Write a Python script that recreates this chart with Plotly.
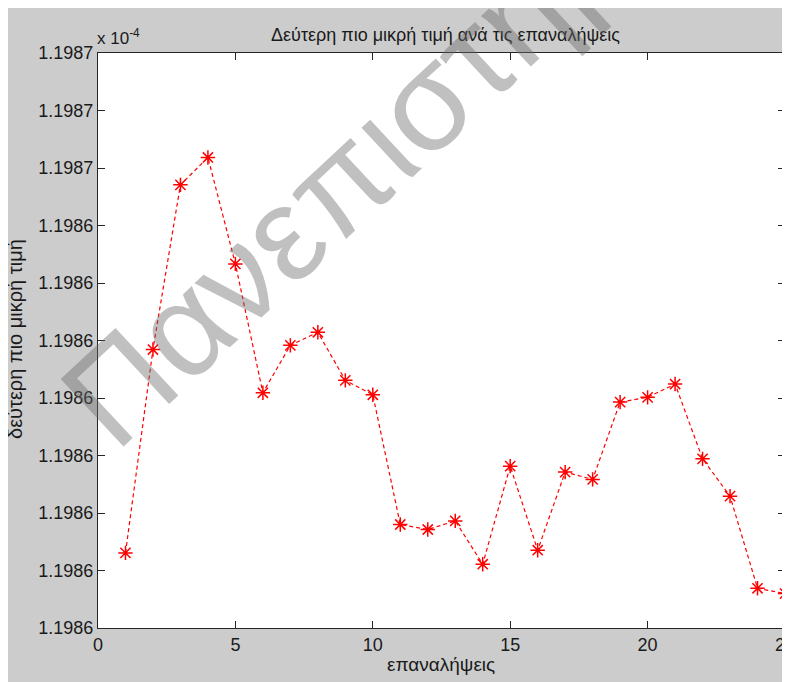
import plotly.graph_objects as go

# Data (values in units of 1e-4)
iterations = list(range(1, 26))
second_min = [
    1.19859306, 1.19862843, 1.19865707, 1.19866183, 1.19864332,
    1.19862091, 1.19862916, 1.19863143, 1.19862307, 1.19862056,
    1.19859800, 1.19859713, 1.19859863, 1.19859109, 1.19860815,
    1.19859353, 1.19860711, 1.19860584, 1.19861929, 1.19862011,
    1.19862243, 1.19860942, 1.19860293, 1.19858691, 1.19858599,
]
y_tickvals = [1.19858 + i * 0.00001 for i in range(11)]
y_ticktext = ["1.1986"] * 8 + ["1.1987"] * 3
x_tickvals = [0, 5, 10, 15, 20, 25]

title_text = "Δεύτερη πιο μικρή τιμή ανά τις επαναλήψεις"
x_label = "επαναλήψεις"
y_label = "δεύτερη πιο μικρή τιμή"
watermark = "Πανεπιστήμιο"

FONT = "Liberation Sans, Arial, sans-serif"
AXC = "#262626"
TXT = "#1a1a1a"

fig = go.Figure()
fig.add_trace(go.Scatter(
    x=iterations, y=second_min, mode="lines+markers",
    line=dict(color="red", width=1.2, dash="4px,3px"),
    marker=dict(symbol="asterisk-open", size=12, color="red",
                line=dict(color="red", width=1.5)),
    showlegend=False, cliponaxis=False,
))

# page offset of the figure (body margin)
OFF = 8
W, H = 800, 674
L, R, T, B = 90, 23, 45, 54
pw, ph = W - L - R, H - T - B

def px(x):  # x in page pixels
    return (x - OFF - L) / pw

def py(y):  # y in page pixels
    return (H - B - (y - OFF)) / ph

fig.update_layout(
    width=W, height=H,
    margin=dict(l=L, r=R, t=T, b=B, autoexpand=False),
    paper_bgcolor="#cccccc",
    plot_bgcolor="white",
    font=dict(family=FONT, size=18, color=TXT),
    xaxis=dict(range=[0, 25], tickvals=x_tickvals, ticks="inside", ticklen=7,
               tickcolor=AXC, showline=True, linecolor=AXC, linewidth=1,
               mirror="ticks", showgrid=False, zeroline=False, automargin=False,
               ticklabeloverflow="allow", tickfont=dict(size=18)),
    yaxis=dict(range=[1.19858, 1.19868], tickvals=y_tickvals, ticktext=y_ticktext,
               ticks="inside", ticklen=7, tickcolor=AXC, showline=True,
               linecolor=AXC, linewidth=1, mirror="ticks", showgrid=False,
               zeroline=False, automargin=False, tickfont=dict(size=18)),
    annotations=[
        dict(text=title_text, xref="paper", yref="paper", x=px(445), y=py(35),
             xanchor="center", yanchor="middle", showarrow=False,
             font=dict(size=18)),
        dict(text="x 10<sup>-4</sup>", xref="paper", yref="paper", x=px(95), y=py(37),
             xanchor="left", yanchor="middle", showarrow=False,
             font=dict(size=17)),
        dict(text=x_label, xref="paper", yref="paper", x=px(441), y=py(664),
             xanchor="center", yanchor="middle", showarrow=False,
             font=dict(size=19)),
        dict(text=y_label, xref="paper", yref="paper", x=px(15), y=py(339),
             xanchor="center", yanchor="middle", showarrow=False, textangle=-90,
             font=dict(size=20)),
        dict(text=watermark, xref="paper", yref="paper", x=px(381), y=py(142),
             xanchor="center", yanchor="middle", showarrow=False, textangle=-43,
             font=dict(size=134, family=FONT, color="rgba(105,105,105,0.42)")),
    ],
)

fig.write_html("out.html")
